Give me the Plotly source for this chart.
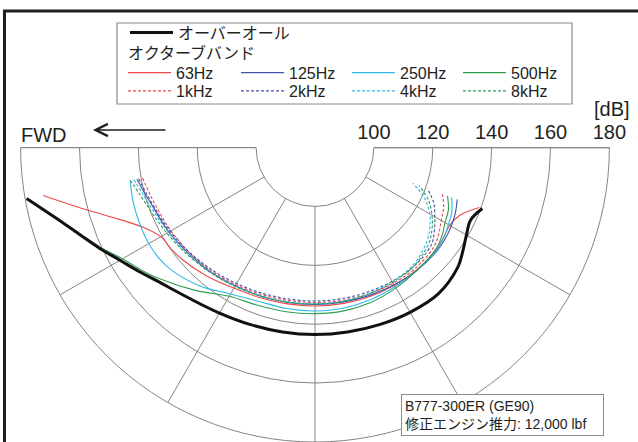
import plotly.graph_objects as go

# ---------------- data ----------------
# directivity angle measured from the forward direction (degrees)
angles = [10, 15, 20, 25, 30, 35, 40, 50, 60, 70, 80, 90, 100, 110, 120, 130, 140, 145, 150, 155, 160]

overall = [179.5, 171.5, 165.5, 160.8, 156.5, 153.2, 150.3, 146.7, 144.9, 144.0, 143.6, 143.5, 143.6, 144.0, 144.6, 145.0, 143.3, 141.3, 139.4, 138.3, 140.5]

band_63 = [173.8, 161.0, 151.0, 144.2, 140.5, 139.8, 139.0, 137.0, 135.1, 134.3, 133.9, 133.8, 133.8, 133.9, 134.0, 134.0, 133.8, 133.3, 132.8, 134.3, 139.4]
band_125 = [141.4, 139.9, 138.6, 137.9, 137.3, 136.6, 136.0, 135.1, 134.2, 133.7, 133.4, 133.3, 133.3, 133.5, 133.8, 134.2, 134.3, 134.0, 133.4, 132.6, 131.4]
band_250 = [143.7, 144.3, 144.7, 145.0, 145.2, 145.0, 144.2, 141.2, 137.4, 135.6, 135.5, 135.5, 135.4, 135.0, 134.5, 134.2, 134.0, 133.4, 132.3, 131.3, 129.4]
band_500 = [179.2, 171.3, 165.2, 160.3, 155.5, 152.3, 149.2, 143.3, 138.3, 137.0, 136.6, 136.4, 136.3, 135.9, 135.0, 134.2, 133.6, 132.6, 131.0, 130.0, 127.9]
band_1k = [139.5, 138.4, 137.6, 137.0, 136.5, 136.0, 135.6, 134.7, 133.8, 133.1, 132.7, 132.6, 132.7, 132.9, 133.2, 133.3, 132.6, 131.3, 129.5, 128.2, 126.1]
band_2k = [140.8, 139.4, 138.3, 137.5, 136.8, 136.1, 135.5, 134.3, 133.3, 132.6, 132.2, 132.1, 132.1, 132.2, 132.4, 132.5, 131.5, 129.5, 127.0, 124.5, 120.7]
band_4k = [142.5, 140.6, 139.3, 138.3, 137.5, 136.9, 136.3, 135.3, 134.3, 133.6, 133.2, 133.0, 133.0, 132.8, 132.5, 132.0, 129.6, 127.6, 125.0, 121.2, 115.4]
band_8k = [143.7, 141.6, 140.1, 139.0, 138.1, 137.3, 136.6, 135.4, 134.4, 133.7, 133.3, 133.1, 133.1, 133.0, 132.8, 132.4, 130.5, 128.5, 125.9, 122.6, 117.7]

band_names_row1 = ["63Hz", "125Hz", "250Hz", "500Hz"]
band_names_row2 = ["1kHz", "2kHz", "4kHz", "8kHz"]
radial_ticks = [100, 120, 140, 160, 180]
angular_grid = [0, 30, 60, 90, 120, 150, 180]   # directivity angles of the spokes

overall_name = "オーバーオール"
band_title = "オクターブバンド"
info_text = "B777-300ER (GE90)<br>修正エンジン推力: 12,000 lbf"

# forward direction points to the left of the chart (polar angle 180)
FWD_ANGLE = 180

# ---------------- styling ----------------
FONT = "Arial, 'Liberation Sans', 'Noto Sans CJK JP', sans-serif"
INK = "#231f20"
GRID = "#858585"
RED = "#ec4848"
BLUE = "#4452a8"
CYAN = "#30b8e8"
GREEN = "#2f9e50"
DASH = "3px,2px"

W, H = 638, 442
def px(x):
    return x / W
def py(y):
    return 1 - y / H

# legend slot geometry (line start x, row centre y) -- layout only
col_x = [129, 242, 353, 464]
row_y = [32.7, 72.7, 91.0]
LEG_DX = -6    # legend x minus line start
LEG_DX_MAIN = -4
LEG_DY = 17    # row centre minus legend top

def theta_of(a_list):
    return [FWD_ANGLE + a for a in a_list]

fig = go.Figure()

row1 = [band_63, band_125, band_250, band_500]
row2 = [band_1k, band_2k, band_4k, band_8k]
colors = [RED, BLUE, CYAN, GREEN]

leg_common = dict(bgcolor="rgba(0,0,0,0)", borderwidth=0, font=dict(size=16, color=INK),
                  itemwidth=43, xanchor="left", yanchor="top", orientation="v")
legends = {}
n = 2
for i, (name, vals, col) in enumerate(zip(band_names_row1, row1, colors)):
    key = "legend%d" % n
    fig.add_trace(go.Scatterpolar(r=vals, theta=theta_of(angles), mode="lines", name=name,
                                  line=dict(color=col, width=1.1, shape="spline"),
                                  legend=key))
    legends[key] = dict(x=px(col_x[i] + LEG_DX), y=py(row_y[1] - LEG_DY), **leg_common)
    n += 1
for i, (name, vals, col) in enumerate(zip(band_names_row2, row2, colors)):
    key = "legend%d" % n
    fig.add_trace(go.Scatterpolar(r=vals, theta=theta_of(angles), mode="lines", name=name,
                                  line=dict(color=col, width=1.1, dash=DASH, shape="spline"),
                                  legend=key))
    legends[key] = dict(x=px(col_x[i] + LEG_DX), y=py(row_y[2] - LEG_DY), **leg_common)
    n += 1
fig.add_trace(go.Scatterpolar(r=overall, theta=theta_of(angles), mode="lines", name=overall_name,
                              line=dict(color="#111111", width=3, shape="spline"),
                              legend="legend"))
legends["legend"] = dict(x=px(col_x[0] + LEG_DX_MAIN), y=py(row_y[0] - LEG_DY), **leg_common)

fig.update_layout(
    width=W, height=H,
    margin=dict(l=0, r=0, t=0, b=0),
    paper_bgcolor="white",
    font=dict(family=FONT, color=INK),
    polar=dict(
        domain=dict(x=[px(20.5), px(609.5)], y=[0, 0.666]),
        sector=[180, 360],
        hole=0.2,
        bgcolor="white",
        radialaxis=dict(range=[100, 180], tickvals=radial_ticks, angle=0, tickangle=0,
                        side="counterclockwise", ticks="", showline=True, linecolor=GRID,
                        linewidth=1, showgrid=True, gridcolor=GRID, gridwidth=1,
                        tickfont=dict(size=20, color=INK)),
        angularaxis=dict(rotation=0, direction="counterclockwise",
                         tickmode="array", tickvals=theta_of(angular_grid),
                         showticklabels=False, ticks="", showline=True, linecolor=GRID,
                         linewidth=1, showgrid=True, gridcolor=GRID, gridwidth=1),
    ),
    showlegend=True,
    **legends,
)

# legend frame and page frame
fig.add_shape(type="rect", xref="paper", yref="paper", x0=px(117), x1=px(572), y0=py(104), y1=py(23),
              line=dict(color="#8c8c8c", width=1.2))
fig.add_shape(type="line", xref="paper", yref="paper", x0=px(4.5), x1=px(4.5), y0=0, y1=py(11),
              line=dict(color=INK, width=3))
fig.add_shape(type="line", xref="paper", yref="paper", x0=px(3), x1=1, y0=py(11), y1=py(11),
              line=dict(color=INK, width=3))

# texts
fig.add_annotation(xref="paper", yref="paper", x=px(126), y=py(52.7), text=band_title, showarrow=False,
                   xanchor="left", yanchor="middle", font=dict(size=16, color=INK))
fig.add_annotation(xref="paper", yref="paper", x=px(19), y=py(135), text="FWD", showarrow=False,
                   xanchor="left", yanchor="middle", font=dict(size=20, color=INK))
fig.add_annotation(xref="paper", yref="paper", x=px(93), y=py(130), text="", showarrow=True,
                   ax=74, ay=0, arrowhead=5, arrowsize=1.6, arrowwidth=1.5, arrowcolor=INK)
fig.add_annotation(xref="paper", yref="paper", x=px(632), y=py(109), text="[dB]", showarrow=False,
                   xanchor="right", yanchor="middle", font=dict(size=20, color=INK))
fig.add_annotation(xref="paper", yref="paper", x=px(400.5), y=py(393.5), text=info_text,
                   showarrow=False, xanchor="left", yanchor="top", align="left", width=195,
                   bgcolor="white", bordercolor="#8c8c8c", borderwidth=1, borderpad=3,
                   font=dict(size=14, color=INK))

fig.write_html("out.html", config={"displayModeBar": False},
               post_script="document.body.style.margin='0px';")
